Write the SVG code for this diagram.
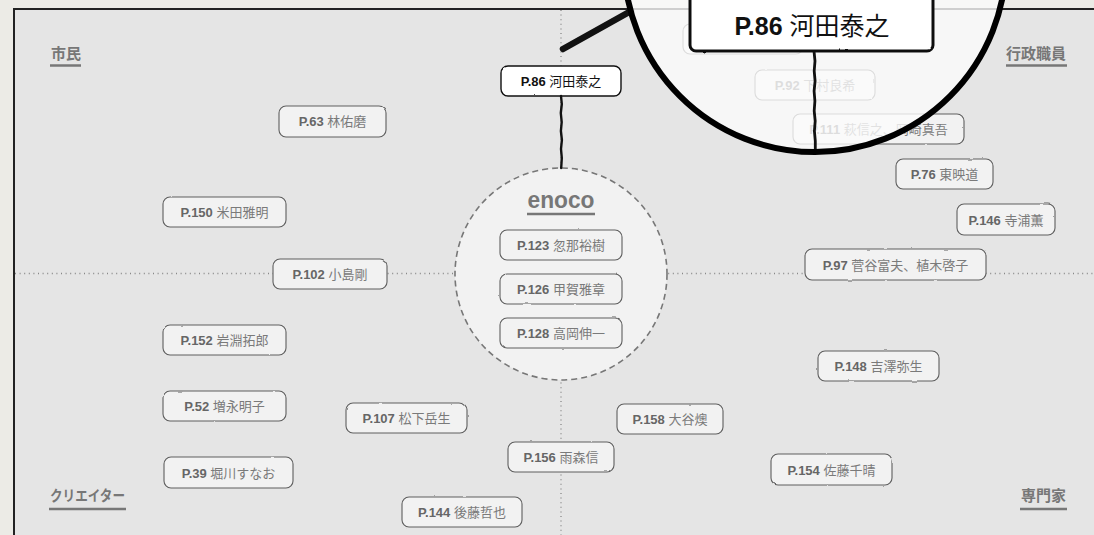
<svg xmlns="http://www.w3.org/2000/svg" width="1094" height="535" viewBox="0 0 1094 535">
<defs>
<filter id="rough" x="-5%" y="-20%" width="110%" height="140%">
<feTurbulence type="fractalNoise" baseFrequency="0.09" numOctaves="2" seed="4" result="n"/>
<feDisplacementMap in="SourceGraphic" in2="n" scale="1.8" xChannelSelector="R" yChannelSelector="G"/>
</filter>
<style>
text{font-family:"Liberation Sans","Noto Sans CJK JP",sans-serif}
.box{fill:#f2f2f2;stroke:#5e5e5e;stroke-width:1.1;filter:url(#rough)}
.t{font-size:13px;fill:#7a7a7a;text-anchor:middle}
.num{font-weight:bold;fill:#666}
.axis{stroke:#888;stroke-width:1.3;stroke-dasharray:1 3.6;fill:none}
.quad{font-size:15px;font-weight:bold;fill:#777}
.ul{stroke:#777;stroke-width:2.5}
</style>
</defs>
<rect x="0" y="0" width="1094" height="535" fill="#ecebe6"/>
<rect x="14" y="9" width="1100" height="540" fill="#e5e5e5" stroke="#222" stroke-width="2"/>
<g id="axes">
<line class="axis" x1="15" y1="273.5" x2="1094" y2="273.5"/>
<line class="axis" x1="561" y1="10" x2="561" y2="535"/>
</g>
<g id="quadrant-labels">
<text class="quad" x="51" y="59">市民</text>
<line class="ul" x1="50" y1="65.5" x2="81" y2="65.5"/>
<text class="quad" x="1066" y="59" text-anchor="end">行政職員</text>
<line class="ul" x1="1006" y1="65.5" x2="1067" y2="65.5"/>
<text class="quad" x="50" y="501" textLength="75" lengthAdjust="spacingAndGlyphs">クリエイター</text>
<line class="ul" x1="49" y1="509" x2="126" y2="509"/>
<text class="quad" x="1066" y="501" text-anchor="end">専門家</text>
<line class="ul" x1="1020" y1="509" x2="1067" y2="509"/>
</g>
<g id="enoco">
<circle cx="561" cy="274" r="106" fill="#f2f2f2" stroke="#777" stroke-width="1.6" stroke-dasharray="6 4"/>
<text x="561" y="208" text-anchor="middle" font-size="24" font-weight="bold" fill="#777" textLength="67" lengthAdjust="spacingAndGlyphs">enoco</text>
<line class="ul" x1="527" y1="214" x2="595" y2="214"/>
</g>
<g id="node-p123"><rect class="box" x="500" y="230" width="122" height="30" rx="7"/><text class="t" x="561" y="250"><tspan class="num">P.123</tspan> 忽那裕樹</text></g>
<g id="node-p126"><rect class="box" x="500" y="274" width="122" height="30" rx="7"/><text class="t" x="561" y="294"><tspan class="num">P.126</tspan> 甲賀雅章</text></g>
<g id="node-p128"><rect class="box" x="500" y="318" width="122" height="30" rx="7"/><text class="t" x="561" y="338"><tspan class="num">P.128</tspan> 高岡伸一</text></g>
<g id="node-p63"><rect class="box" x="279" y="106" width="107" height="31" rx="7"/><text class="t" x="332.5" y="126"><tspan class="num">P.63</tspan> 林佑磨</text></g>
<g id="node-p150"><rect class="box" x="163" y="197" width="123" height="30" rx="7"/><text class="t" x="224.5" y="217"><tspan class="num">P.150</tspan> 米田雅明</text></g>
<g id="node-p102"><rect class="box" x="273" y="259" width="114" height="30" rx="7"/><text class="t" x="330" y="279"><tspan class="num">P.102</tspan> 小島剛</text></g>
<g id="node-p152"><rect class="box" x="163" y="325" width="123" height="30" rx="7"/><text class="t" x="224.5" y="345"><tspan class="num">P.152</tspan> 岩淵拓郎</text></g>
<g id="node-p52"><rect class="box" x="163" y="391" width="123" height="30" rx="7"/><text class="t" x="224.5" y="411"><tspan class="num">P.52</tspan> 増永明子</text></g>
<g id="node-p107"><rect class="box" x="346" y="403" width="121" height="30" rx="7"/><text class="t" x="406.5" y="423"><tspan class="num">P.107</tspan> 松下岳生</text></g>
<g id="node-p39"><rect class="box" x="164" y="457" width="129" height="31" rx="7"/><text class="t" x="228.5" y="477.5"><tspan class="num">P.39</tspan> 堀川すなお</text></g>
<g id="node-p144"><rect class="box" x="402" y="497" width="120" height="30" rx="7"/><text class="t" x="462" y="517"><tspan class="num">P.144</tspan> 後藤哲也</text></g>
<g id="node-p156"><rect class="box" x="508" y="442" width="106" height="30" rx="7"/><text class="t" x="561" y="462"><tspan class="num">P.156</tspan> 雨森信</text></g>
<g id="node-p158"><rect class="box" x="617" y="404" width="106" height="30" rx="7"/><text class="t" x="670" y="424"><tspan class="num">P.158</tspan> 大谷燠</text></g>
<g id="node-p154"><rect class="box" x="771" y="454" width="121" height="31" rx="7"/><text class="t" x="831.5" y="474.5"><tspan class="num">P.154</tspan> 佐藤千晴</text></g>
<g id="node-p148"><rect class="box" x="818" y="351" width="121" height="30" rx="7"/><text class="t" x="878.5" y="371"><tspan class="num">P.148</tspan> 吉澤弥生</text></g>
<g id="node-p97"><rect class="box" x="805" y="249" width="181" height="31" rx="7"/><text class="t" x="895.5" y="269.5"><tspan class="num">P.97</tspan> 菅谷富夫、植木啓子</text></g>
<g id="node-p146"><rect class="box" x="957" y="204" width="98" height="31" rx="7"/><text class="t" x="1006" y="224.5"><tspan class="num">P.146</tspan> 寺浦薫</text></g>
<g id="node-p76"><rect class="box" x="896" y="159" width="97" height="30" rx="7"/><text class="t" x="944.5" y="179"><tspan class="num">P.76</tspan> 東映道</text></g>
<g id="node-p111"><rect class="box" x="793" y="114" width="171" height="30" rx="7"/><text class="t" x="878.5" y="134"><tspan class="num">P.111</tspan> 萩信之、岡崎真吾</text></g>
<g id="node-p92"><rect class="box" x="755" y="70" width="120" height="30" rx="7"/><text class="t" x="815" y="90"><tspan class="num">P.92</tspan> 下村良希</text></g>
<g id="node-hidden"><rect class="box" x="683" y="24" width="120" height="30" rx="7"/></g>
<g id="node-p86">
<rect x="501" y="66" width="120" height="30" rx="7" fill="#fff" stroke="#111" stroke-width="1.4" filter="url(#rough)"/>
<text class="t" x="561" y="86" style="fill:#111"><tspan class="num" style="fill:#111">P.86</tspan> 河田泰之</text>
</g>
<g id="connectors" fill="none" stroke="#111" stroke-linecap="round" stroke-linejoin="round">
<path d="M561,96 l0.8,8 l-1,9 l0.9,9 l-0.8,9 l1,9 l-0.9,9 l0.8,9 l-0.6,10" stroke-width="2.4"/>
<path d="M563,49 L631,11" stroke-width="6.5"/>
</g>
<g id="magnifier">
<circle cx="815" cy="-39" r="191" fill="#fbfbfb" fill-opacity="0.8" stroke="none"/>
<path d="M814,51 l1,10 l-0.8,10 l0.9,10 l-1,10 l0.8,10 l-0.7,10 l1,10 l-0.8,10 l0.9,10 l0,11" fill="none" stroke="#111" stroke-width="2.8" stroke-linecap="round"/>
<circle cx="815" cy="-39" r="191" fill="none" stroke="#000" stroke-width="6"/>
<rect x="690" y="-20" width="243" height="71" rx="6" fill="#fff" stroke="#111" stroke-width="3" filter="url(#rough)"/>
<text x="812" y="35" text-anchor="middle" font-size="25" fill="#111"><tspan font-weight="bold">P.86</tspan> 河田泰之</text>
</g>
</svg>
